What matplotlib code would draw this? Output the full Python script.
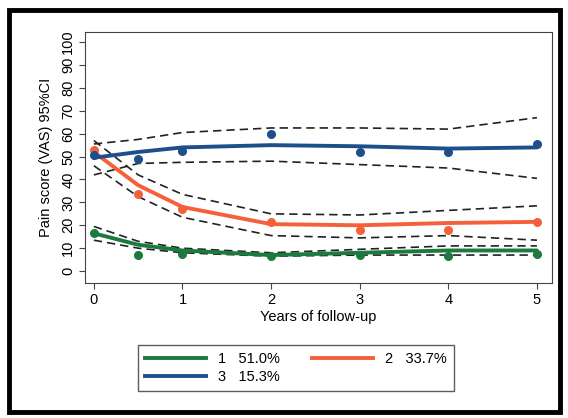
import numpy as np
from matplotlib import pyplot as plt
from matplotlib.patches import Rectangle
from matplotlib.lines import Line2D

plt.rcParams['font.family'] = ['Liberation Sans', 'DejaVu Sans']

years = [0, 0.5, 1, 2, 3, 4, 5]

# observed means
obs1 = [16.5, 7, 7.5, 6.5, 7, 6.5, 7.5]
obs2 = [53, 33.5, 27, 21.5, 18, 18, 21.5]
obs3 = [50.5, 49, 52.5, 60, 52, 52, 55.5]

# fitted trajectories
fit1 = [16.5, 11.5, 9, 7, 8, 9, 9]
fit2 = [52, 37.5, 28, 20.5, 20, 21, 21.5]
fit3 = [49.5, 52, 54, 55, 54.5, 53.5, 54]

# 95% CI bounds
up1 = [19.5, 13, 10, 8, 9.5, 11, 11]
lo1 = [13.5, 10, 8, 6.5, 7, 7, 7]
up2 = [57, 42, 33.5, 25, 24.5, 26.5, 28.5]
lo2 = [46, 32.5, 23.5, 15.5, 14.5, 15.5, 13.5]
up3 = [55.5, 57.5, 60.5, 62.5, 62.5, 62, 67]
lo3 = [42, 47, 47.5, 48, 46.5, 45, 40.5]

labels = ["1   51.0%", "2   33.7%", "3   15.3%"]
green, orange, blue = "#1b7a3e", "#f5603a", "#1d4f8a"

fig = plt.figure(figsize=(5.68, 4.18), dpi=100)
fig.patch.set_facecolor("white")
fig.patches.append(Rectangle((9/568, 6/418), 551/568, 402/418, transform=fig.transFigure,
                             fill=False, edgecolor="black", linewidth=3.5))
ax = fig.add_axes([85/568, 135/418, 467/568, 251/418])

for up, lo in [(up1, lo1), (up2, lo2), (up3, lo3)]:
    ax.plot(years, up, ls=(0, (5, 3)), color="#222222", lw=1.2, zorder=2)
    ax.plot(years, lo, ls=(0, (5, 3)), color="#222222", lw=1.2, zorder=2)

for fit, obs, c in [(fit1, obs1, green), (fit2, obs2, orange), (fit3, obs3, blue)]:
    ax.plot(years, fit, color=c, lw=2.8, zorder=3, solid_capstyle="round")
    ax.scatter(years, obs, color=c, s=30, zorder=4)

ax.set_xlim(-0.1, 5.17)
ax.set_ylim(-5.2, 104.4)
ax.set_xticks(range(6))
ax.set_yticks(range(0, 101, 10))
ax.set_yticklabels([str(v) for v in range(0, 101, 10)], rotation=90, va="center")
ax.tick_params(labelsize=10.5, length=4, color="#444444", pad=3)
for s in ax.spines.values():
    s.set_color("#444444")
ax.set_xlabel("Years of follow-up", fontsize=10.5, labelpad=2)
ax.set_ylabel("Pain score (VAS) 95%CI", fontsize=10.5, labelpad=6)

# column-major fill: put group 3 second so rows read 1,2 / 3
order = [0, 2, 1]
handles = [Line2D([], [], color=c, lw=2.8) for c in (green, orange, blue)]
leg = fig.legend([handles[i] for i in order], [labels[i] for i in order], ncol=2, loc="center",
                 bbox_to_anchor=(296/568, (418-368)/418),
                 fontsize=10.5, frameon=True, fancybox=False, edgecolor="#333333",
                 handlelength=4.2, columnspacing=2.2, borderpad=0.5, labelspacing=0.3)
leg.get_frame().set_linewidth(1.0)

fig.savefig("out.png", dpi=100)
